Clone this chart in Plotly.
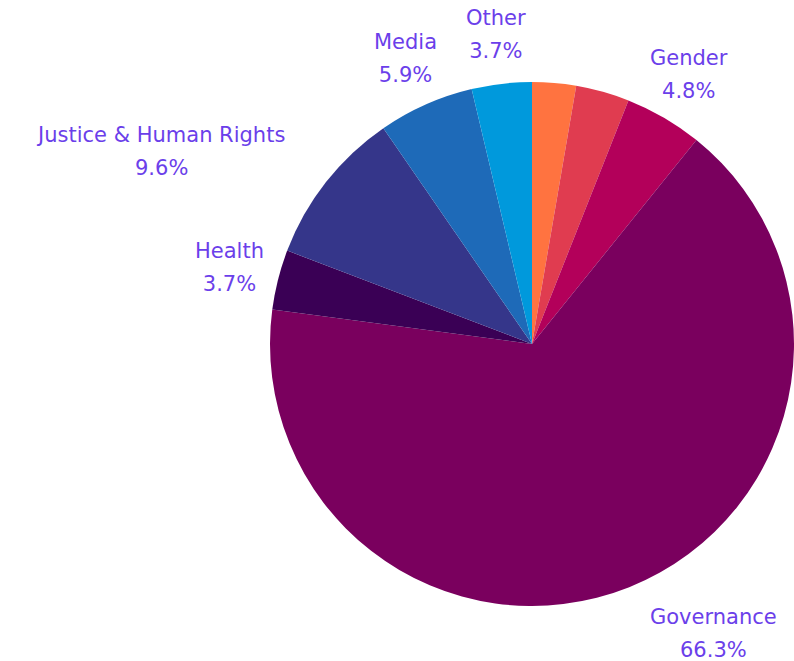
import math
import plotly.graph_objects as go

# Share of projects by sector (percent), listed clockwise from 12 o'clock
sectors = ["Education", "Environment", "Gender", "Governance", "Health",
           "Justice & Human Rights", "Media", "Other"]
shares = [2.7, 3.3, 4.8, 66.3, 3.7, 9.6, 5.9, 3.7]
show_label = [False, False, True, True, True, True, True, True]
label_align = ["center", "center", "center", "left", "center", "right",
               "center", "center"]
colors = ["#FF7340", "#E03C50", "#B3005A", "#7A005E", "#3A0055",
          "#35368A", "#1E6AB8", "#0099DC"]

W, H = 794, 661
CX, CY, R = 532, 344, 262          # pie centre and radius in pixels
LABEL_R = R + 50                   # distance of label anchor from centre
TEXT_SIZE = 21
# the outer font size only sets the line pitch; glyphs use TEXT_SIZE
FONT = dict(family="DejaVu Sans", size=25, color="#6B3FEA")

fig = go.Figure(go.Pie(
    labels=sectors,
    values=shares,
    sort=False,
    direction="clockwise",
    rotation=0,
    marker=dict(colors=colors, line=dict(width=0)),
    textinfo="none",
    hoverinfo="label+value",
    domain=dict(x=[(CX - R) / W, (CX + R) / W],
                y=[(H - CY - R) / H, (H - CY + R) / H]),
    showlegend=False,
))

# Labels sit outside the pie at each slice's mid-angle
total = sum(shares)
cum = 0.0
for name, val, show, align in zip(sectors, shares, show_label, label_align):
    mid = (cum + val / 2) / total * 2 * math.pi
    cum += val
    if not show:
        continue
    px = CX + LABEL_R * math.sin(mid)
    py = CY - LABEL_R * math.cos(mid)
    span = f"<span style='font-size:{TEXT_SIZE}px'>"
    fig.add_annotation(
        x=px / W, y=(H - py) / H, xref="paper", yref="paper",
        text=f"{span}{name}</span><br>{span}{val:.1f}%</span>",
        showarrow=False, font=FONT, align="center",
        xanchor=align, yanchor="middle",
    )

fig.update_layout(
    width=W, height=H,
    margin=dict(l=0, r=0, t=0, b=0),
    paper_bgcolor="white",
)

fig.write_html("out.html")
